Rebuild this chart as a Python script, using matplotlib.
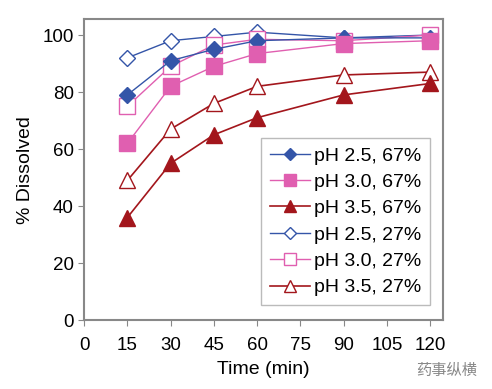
import matplotlib
matplotlib.use("Agg")
import matplotlib.pyplot as plt

plt.rcParams["font.family"] = ["Liberation Sans", "Noto Sans CJK SC", "DejaVu Sans"]

time_min = [15, 30, 45, 60, 90, 120]

ph25_67 = [79, 91, 95, 98, 99, 99]
ph30_67 = [62, 82, 89, 93.5, 97, 98]
ph35_67 = [36, 55, 65, 71, 79, 83]
ph25_27 = [92, 98, 99.5, 101, 99, 100]
ph30_27 = [75, 89, 96.5, 98.5, 98, 100]
ph35_27 = [49, 67, 76, 82, 86, 87]

labels = ["pH 2.5, 67%", "pH 3.0, 67%", "pH 3.5, 67%",
          "pH 2.5, 27%", "pH 3.0, 27%", "pH 3.5, 27%"]

blue = "#3455a8"
pink = "#e05fb0"
red = "#a3161c"

fig = plt.figure(figsize=(4.92, 3.89), dpi=100)
ax = fig.add_axes([0.171, 0.177, 0.729, 0.774])

ax.plot(time_min, ph25_27, color=blue, marker="D", ms=8, mfc="white", mec=blue, lw=1, label=labels[3])
ax.plot(time_min, ph30_27, color=pink, marker="s", ms=11, mfc="white", mec=pink, lw=1, label=labels[4])
ax.plot(time_min, ph35_27, color=red, marker="^", ms=11, mfc="white", mec=red, lw=1.2, label=labels[5])
ax.plot(time_min, ph25_67, color=blue, marker="D", ms=8, mfc=blue, mec=blue, lw=1, label=labels[0])
ax.plot(time_min, ph30_67, color=pink, marker="s", ms=11, mfc=pink, mec=pink, lw=1, label=labels[1])
ax.plot(time_min, ph35_67, color=red, marker="^", ms=11, mfc=red, mec=red, lw=1.2, label=labels[2])

ax.set_xlim(0, 124.4)
ax.set_ylim(0, 105.6)
ax.set_xticks(range(0, 121, 15))
ax.set_yticks(range(0, 101, 20))
ax.tick_params(labelsize=13.5, length=4, color="#888888", direction="out")
ax.tick_params(axis="x", pad=8)
for s in ax.spines.values():
    s.set_color("#888888")
    s.set_linewidth(1.5)

ax.set_xlabel("Time (min)", fontsize=14, labelpad=5)
ax.set_ylabel("% Dissolved", fontsize=14, labelpad=6)

handles, labs = ax.get_legend_handles_labels()
order = [3, 4, 5, 0, 1, 2]
leg = ax.legend([handles[i] for i in order], [labs[i] for i in order],
                loc="lower right", bbox_to_anchor=(0.965, 0.05), fontsize=14,
                fancybox=False, framealpha=1, edgecolor="#bbbbbb",
                handlelength=2.1, handletextpad=0.2, labelspacing=0.45,
                borderpad=0.45, borderaxespad=0, markerscale=0.75)

fig.text(0.97, 0.035, "药事纵横", fontsize=11, color="#888888", ha="right",
         family=["Noto Sans CJK SC"])

fig.savefig("out.png", dpi=100)
